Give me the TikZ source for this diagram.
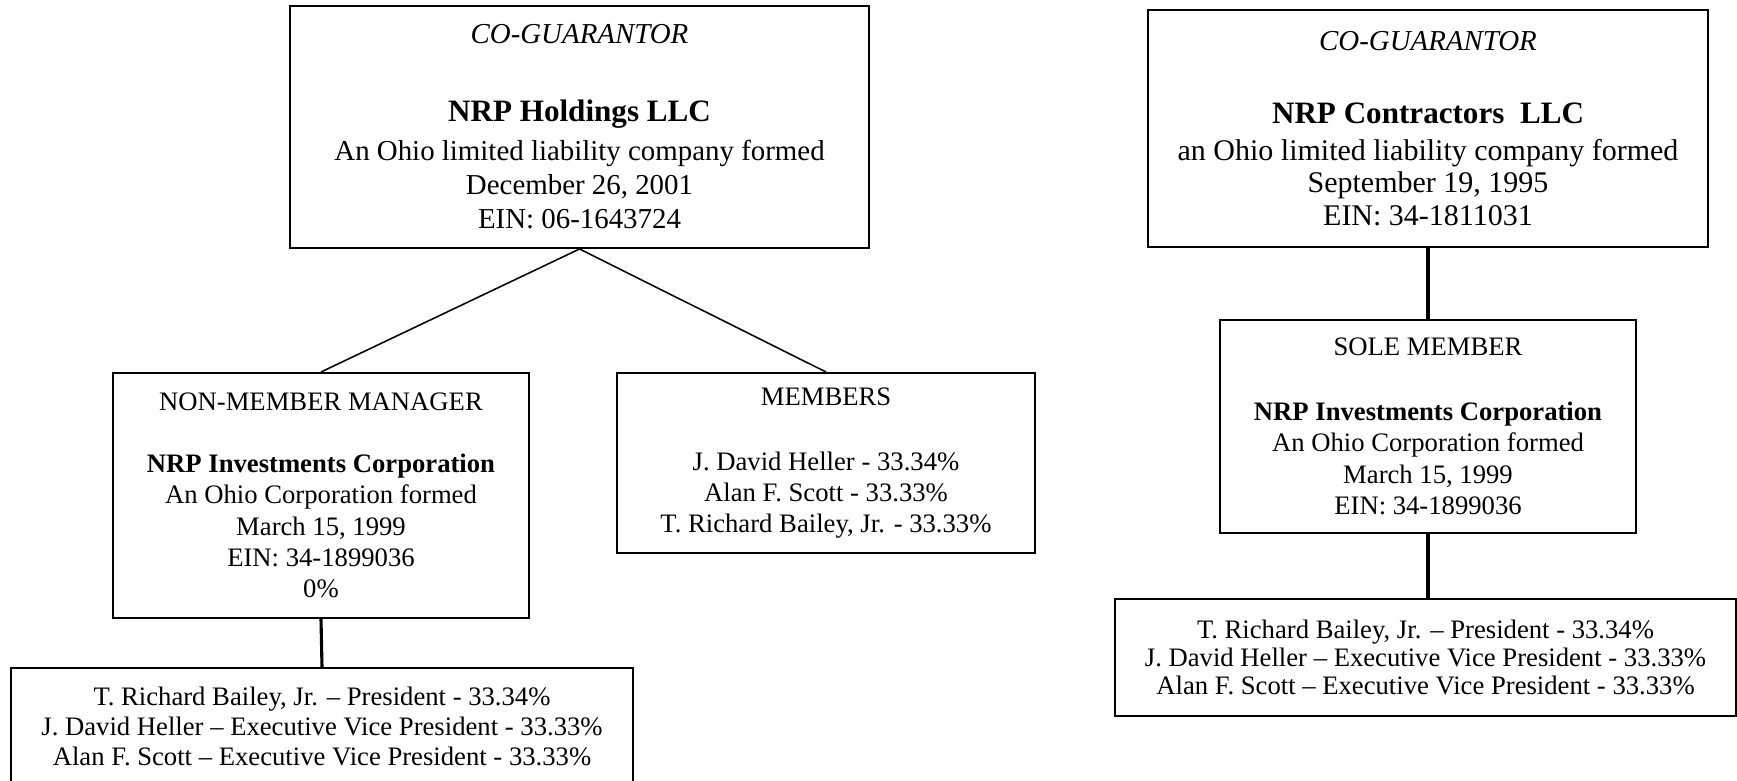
\documentclass[tikz,border=0pt]{standalone}
\usepackage{fontspec}
\setmainfont{Liberation Serif}
\usetikzlibrary{positioning}

\begin{document}
\begin{tikzpicture}[x=0.45pt,y=-0.45pt,
  orgbox/.style={draw,line width=0.9pt,align=center,inner sep=0pt,
    font=\fontsize{12}{14.1}\selectfont},
  tie/.style={line width=1.4pt},
  branch/.style={line width=0.7pt}]
  \useasboundingbox[fill=white] (0,0) rectangle (1737,781);
  % left chart
  \node[orgbox,minimum width=260.55pt,minimum height=108.9pt,
    font=\fontsize{13}{15.3}\selectfont] (holdings) at (579.5,127)
    {\textit{CO-GUARANTOR}\\[19.8pt]
     {\fontsize{14}{16}\selectfont\bfseries NRP Holdings LLC}\\[2.2pt]
     An Ohio limited liability company formed\\
     December 26, 2001\\
     EIN: 06-1643724};
  \node[orgbox,minimum width=187.2pt,minimum height=110.25pt] (manager) at (321,495.5)
    {NON-MEMBER MANAGER\\[13.8pt]
     \textbf{NRP Investments Corporation}\\
     An Ohio Corporation formed\\
     March 15, 1999\\
     EIN: 34-1899036\\
     0\%};
  \node[orgbox,minimum width=188.1pt,minimum height=81pt] (members) at (826,463)
    {MEMBERS\\[15.1pt]
     J. David Heller - 33.34\%\\
     Alan F. Scott - 33.33\%\\
     T. Richard Bailey, Jr. - 33.33\%};
  \node[orgbox,minimum width=279.9pt,minimum height=52.65pt,
    font=\fontsize{12}{13.5}\selectfont] (officersL) at (322,726.5)
    {T. Richard Bailey, Jr. -- President - 33.34\%\\
     J. David Heller -- Executive Vice President - 33.33\%\\
     Alan F. Scott -- Executive Vice President - 33.33\%};
  \draw[branch] (holdings.south) -- (manager.north);
  \draw[branch] (holdings.south) -- (members.north);
  \draw[tie] (manager.south) -- (officersL.north);
  % right chart
  \node[orgbox,minimum width=252pt,minimum height=106.65pt,
    font=\fontsize{13.5}{14.5}\selectfont] (contractors) at (1428,128.5)
    {{\fontsize{13}{14.5}\selectfont\itshape CO-GUARANTOR}\\[18.5pt]
     {\fontsize{14}{16}\selectfont\bfseries NRP Contractors\ \ LLC}\\[2.1pt]
     an Ohio limited liability company formed\\
     September 19, 1995\\
     EIN: 34-1811031};
  \node[orgbox,minimum width=187.2pt,minimum height=95.85pt] (sole) at (1428,426.5)
    {SOLE MEMBER\\[15.1pt]
     \textbf{NRP Investments Corporation}\\
     An Ohio Corporation formed\\
     March 15, 1999\\
     EIN: 34-1899036};
  \node[orgbox,minimum width=279.45pt,minimum height=52.65pt,
    font=\fontsize{12}{12.8}\selectfont] (officersR) at (1425.5,657.5)
    {T. Richard Bailey, Jr. -- President - 33.34\%\\
     J. David Heller -- Executive Vice President - 33.33\%\\
     Alan F. Scott -- Executive Vice President - 33.33\%};
  \draw[tie] (contractors.south) -- (sole.north);
  \draw[tie] (sole.south) -- (sole.south |- officersR.north);
\end{tikzpicture}
\end{document}
